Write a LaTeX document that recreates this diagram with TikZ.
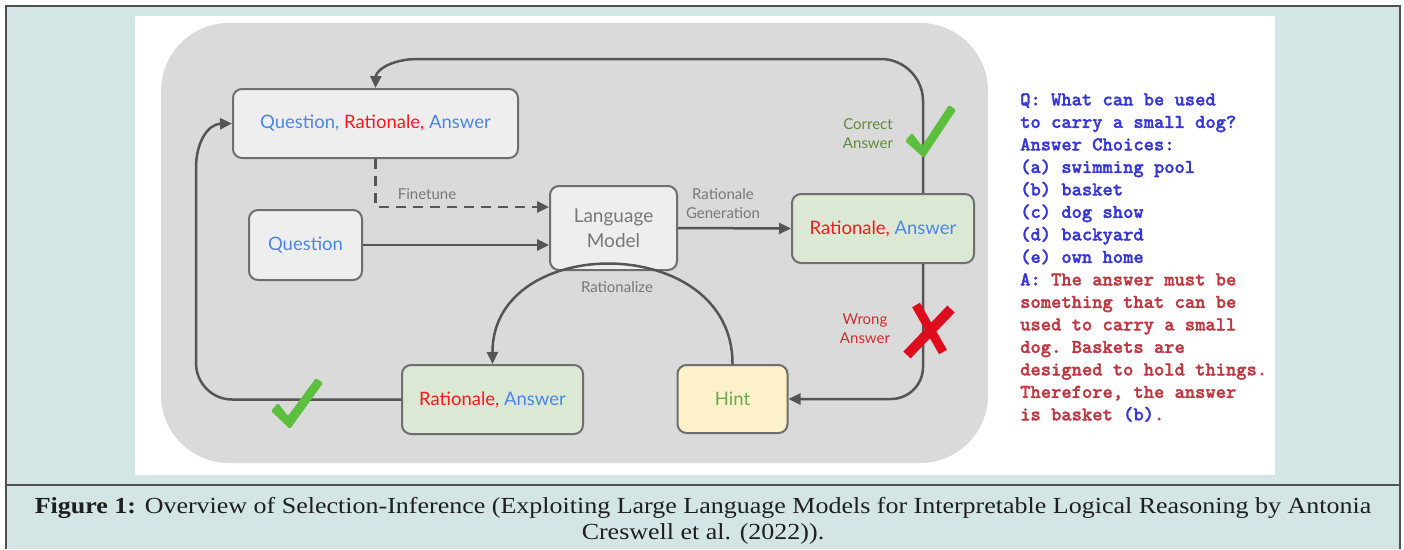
\documentclass[tikz,border=0pt]{standalone}
\usepackage{fontspec}
\setmainfont{Liberation Serif}
\newfontfamily\capfont[FakeStretch=1.13]{Liberation Serif}
\newfontfamily\diagfont{Lato}
\newfontfamily\codefont[FakeBold=1.6]{lmmonolt10-bold.otf}
\usetikzlibrary{arrows.meta}

\definecolor{pagebg}{RGB}{211,230,229}
\definecolor{framecol}{RGB}{80,80,80}
\definecolor{panel}{RGB}{218,218,218}
\definecolor{boxfill}{RGB}{238,238,238}
\definecolor{boxline}{RGB}{110,110,110}
\definecolor{greenfill}{RGB}{219,232,211}
\definecolor{hintfill}{RGB}{252,241,200}
\definecolor{flowcol}{RGB}{85,85,85}
\definecolor{qblue}{RGB}{74,134,232}
\definecolor{rred}{RGB}{245,25,30}
\definecolor{hintgreen}{RGB}{106,168,79}
\definecolor{labelgray}{RGB}{120,120,120}
\definecolor{okgreen}{RGB}{95,140,60}
\definecolor{badred}{RGB}{205,45,50}
\definecolor{checkgreen}{RGB}{92,192,62}
\definecolor{crossred}{RGB}{222,12,28}
\definecolor{codeblue}{RGB}{55,55,215}
\definecolor{codered}{RGB}{190,55,65}
\definecolor{captext}{RGB}{30,30,30}

\tikzset{
  box/.style={draw=boxline, line width=2pt, rounded corners=9pt, fill=boxfill,
    inner sep=0pt, align=center, font=\diagfont\fontsize{18.5}{22}\selectfont},
  flow/.style={draw=flowcol, line width=2.5pt,
    -{Triangle[length=12pt,width=11pt]}},
  lbl/.style={text=labelgray, align=center, inner sep=0pt,
    font=\diagfont\fontsize{15}{19}\selectfont},
}

\begin{document}
\begin{tikzpicture}[x=1pt,y=-1pt]
% page, frame and caption strip
\fill[white] (0,0) rectangle (1404,549);
\useasboundingbox (0,0) rectangle (1404,549);
\fill[pagebg] (6,6) rectangle (1400,549);
\draw[framecol, line width=1.8pt] (6,549) -- (6,6) -- (1400,6) -- (1400,549);
\draw[framecol, line width=1.8pt] (6,485) -- (1400,485);
\fill[white] (135,16) rectangle (1275,475);
\fill[panel, rounded corners=68pt] (161,23) rectangle (988,463);

% boxes
\node[box, minimum width=285pt, minimum height=69pt] (qra) at (375.5,123.5)
  {\textcolor{qblue}{Question,} \textcolor{rred}{Rationale,} \textcolor{qblue}{Answer}};
\node[box, minimum width=113pt, minimum height=70pt] (q) at (305.5,245)
  {\textcolor{qblue}{Question}};
\node[box, minimum width=127pt, minimum height=84pt, text=labelgray,
  font=\diagfont\fontsize{19}{25}\selectfont] (lm) at (613.5,228) {Language\\Model};
\node[box, fill=greenfill, minimum width=182pt, minimum height=69pt] (raR) at (883,228.5)
  {\textcolor{rred}{Rationale,} \textcolor{qblue}{Answer}};
\node[box, fill=greenfill, minimum width=181pt, minimum height=69pt] (raB) at (492.5,399.5)
  {\textcolor{rred}{Rationale,} \textcolor{qblue}{Answer}};
\node[box, fill=hintfill, minimum width=110pt, minimum height=68pt] (hint) at (732.5,399)
  {\textcolor{hintgreen}{Hint}};

% guide points for the loops
\coordinate (rv) at (923,0);
\coordinate (ftrow) at (0,207);

% connectors
\draw[flow, dashed, dash pattern=on 10pt off 7pt]
  (qra.south) |- (lm.west |- ftrow);
\draw[flow] (q.east) -- (lm.west |- q.east);
\draw[flow] (lm.east) -- (raR.west);
% correct answer: back to the top box
\draw[flow] (raR.north -| rv) -- (923,101)
  .. controls (923,78) and (904,59) .. (881,59) -- (418,59)
  .. controls (392,59) and (376,70) .. (qra.north);
% wrong answer: down to the hint
\draw[flow, rounded corners=32pt] (raR.south -| rv) |- (hint.east);
% rationalized answer: back to the top box
\draw[flow] (raB.west) -- (232,399.5)
  .. controls (212,399.5) and (196,383) .. (196,363) -- (196,168)
  .. controls (196,142) and (208,124) .. (qra.west);
% rationalize arc
\draw[flow] (hint.north) .. controls (733,232) and (492,232) .. (raB.north);

% connector labels
\node[lbl] (ftlbl) at (427,194) {Finetune};
\node[lbl] (genlbl) at (723,204) {Rationale\\Generation};
\node[lbl] (ratlbl) at (617,287) {Rationalize};
\node[lbl, text=okgreen] (oklbl) at (868,134) {Correct\\Answer};
\node[lbl, text=badred] (badlbl) at (865,329) {Wrong\\Answer};

% check marks and cross
\fill[checkgreen, rounded corners=1.5pt] (905,141) -- (912,133) -- (922,146) -- (949,105)
  -- (956,110) -- (924,158) -- cycle;
\fill[checkgreen, rounded corners=1.5pt] (271,411) -- (278,403) -- (288,416) -- (316,378)
  -- (323,383) -- (290,429) -- cycle;
\draw[crossred, line width=9pt] (916,305) -- (943,352);
\draw[crossred, line width=10pt] (951,309) -- (907,355);

% worked example
\node[anchor=north west, inner sep=0pt, align=left,
  font=\codefont\frenchspacing\fontsize{19.6}{22.5}\selectfont] (example) at (1020,93)
  {\textcolor{codeblue}{Q: What can be used}\\
   \textcolor{codeblue}{to carry a small dog?}\\
   \textcolor{codeblue}{Answer Choices:}\\
   \textcolor{codeblue}{(a) swimming pool}\\
   \textcolor{codeblue}{(b) basket}\\
   \textcolor{codeblue}{(c) dog show}\\
   \textcolor{codeblue}{(d) backyard}\\
   \textcolor{codeblue}{(e) own home}\\
   \textcolor{codeblue}{A:}\textcolor{codered}{\ The answer must be}\\
   \textcolor{codered}{something that can be}\\
   \textcolor{codered}{used to carry a small}\\
   \textcolor{codered}{dog. Baskets are}\\
   \textcolor{codered}{designed to hold things.}\\
   \textcolor{codered}{Therefore, the answer}\\
   \textcolor{codered}{is basket\ }\textcolor{codeblue}{(b)}\textcolor{codered}{.}};

% caption
\node[align=center, inner sep=0pt, text=captext,
  font=\capfont\fontsize{23}{26}\selectfont] (caption) at (703,521)
  {\textbf{Figure 1:} Overview of Selection-Inference (Exploiting Large Language Models for Interpretable Logical Reasoning by Antonia\\
   Creswell et al. (2022)).};
\end{tikzpicture}
\end{document}
